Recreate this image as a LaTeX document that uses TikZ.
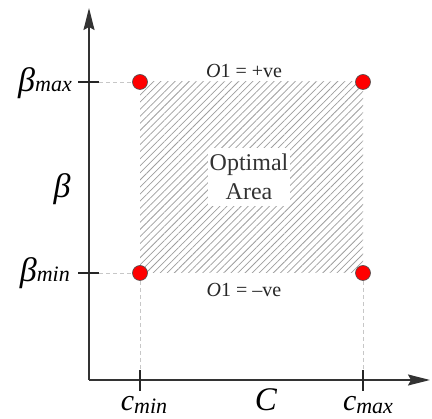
\documentclass[tikz,border=0pt]{standalone}
\usepackage{fontspec}
\setmainfont{Liberation Serif}
\usetikzlibrary{patterns.meta,arrows.meta}
\begin{document}
\begin{tikzpicture}[x=1pt,y=-1pt,
  axis/.style={line width=1.6pt,draw=black!80},
  guide/.style={draw=black!22,dashed,dash pattern=on 4pt off 3pt,line width=0.9pt},
  tick/.style={line width=1.6pt,draw=black!85},
  dot/.style={circle,fill=red,draw=black!70,line width=0.6pt,minimum size=15pt,inner sep=0pt},
  lab/.style={font=\fontsize{30}{32}\selectfont\itshape,inner sep=0pt,anchor=base},
  sublab/.style={font=\fontsize{20}{22}\selectfont,inner sep=0pt,anchor=base}]
\useasboundingbox (0,0) rectangle (432,419);
% hatched area
\path[pattern={Lines[angle=45,distance=5pt,line width=0.75pt]},pattern color=black!38] (140,82) rectangle (363,273);
\node[fill=white,inner sep=0pt,minimum width=82pt,minimum height=58pt,align=center,font=\fontsize{24}{29}\selectfont,text=black!80] (opt) at (249,177) {Optimal\\Area};
% axes
\coordinate (O) at (89,380);
\coordinate (ytop) at (89,8);
\coordinate (xend) at (430,380);
\draw[axis,-{Stealth[length=22pt,width=11pt,inset=3pt]}] (O) -- (ytop);
\draw[axis,-{Stealth[length=22pt,width=11pt,inset=3pt]}] (O) -- (xend);
% dots
\node[dot] (tl) at (140,82) {};
\node[dot] (tr) at (363,82) {};
\node[dot] (bl) at (140,273) {};
\node[dot] (br) at (363,273) {};
% ticks
\coordinate (ty1a) at (78,82); \coordinate (ty1b) at (99,82);
\coordinate (ty2a) at (78,273); \coordinate (ty2b) at (99,273);
\coordinate (tx1a) at (140,370); \coordinate (tx1b) at (140,391);
\coordinate (tx2a) at (363,370); \coordinate (tx2b) at (363,391);
\draw[tick] (ty1a) -- (ty1b);
\draw[tick] (ty2a) -- (ty2b);
\draw[tick] (tx1a) -- (tx1b);
\draw[tick] (tx2a) -- (tx2b);
% guides
\draw[guide] (ty1b) -- (tl);
\draw[guide] (ty2b) -- (bl);
\draw[guide] (bl) -- (tx1a);
\draw[guide] (br) -- (tx2a);
% labels
\node[lab,anchor=base east] (bmax) at (72,92) {\fontsize{34}{36}\selectfont β\fontsize{22}{24}\selectfont max};
\node[lab,anchor=base east] (bmin) at (70,282) {\fontsize{34}{36}\selectfont β\fontsize{22}{24}\selectfont min};
\node[lab] (beta) at (62,198) {\fontsize{34}{36}\selectfont β};
\node[lab] (C) at (266,411) {\fontsize{33}{34}\selectfont C};
\node[lab] (cmin) at (144,411) {c\raisebox{-3pt}{\fontsize{22}{24}\selectfont min}};
\node[lab] (cmax) at (368,411) {c\raisebox{-3pt}{\fontsize{22}{24}\selectfont max}};
\node[sublab,text=black!85] (pos) at (244,78) {\textit{O}1 = +ve};
\node[sublab,text=black!85] (neg) at (244,297) {\textit{O}1 = –ve};
\end{tikzpicture}
\end{document}
